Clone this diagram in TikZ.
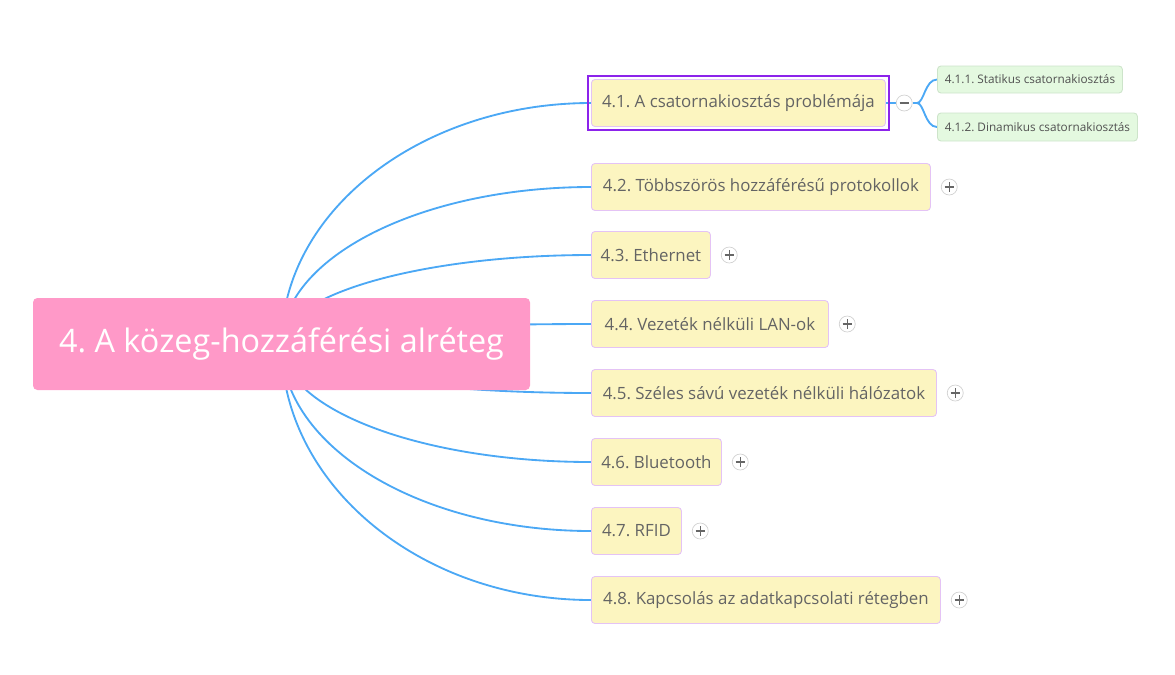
\documentclass[tikz,border=0pt]{standalone}
\usepackage{fontspec}
\setmainfont{Open Sans}
\frenchspacing
\usetikzlibrary{positioning,backgrounds,fit,calc}
\definecolor{rozsa}{RGB}{255,153,200}
\definecolor{sarga}{RGB}{252,245,192}
\definecolor{lila}{RGB}{228,195,245}
\definecolor{zold}{RGB}{228,249,224}
\definecolor{zoldkeret}{RGB}{205,228,202}
\definecolor{kek}{RGB}{75,168,245}
\definecolor{kijelol}{RGB}{140,35,235}
\definecolor{szurke}{RGB}{100,100,100}
\def\px{0.02cm}
\begin{document}
\begin{tikzpicture}[x=0.02cm,y=-0.02cm,
	fo/.style={fill=rozsa,text=white,rounded corners=2.5pt,minimum width=497*\px,
		minimum height=92*\px,font=\fontsize{18.4}{21}\selectfont},
	tema/.style={anchor=west,fill=sarga,draw=lila,line width=0.5pt,rounded corners=2pt,
		minimum height=47*\px,text=szurke,font=\fontsize{9.6}{11}\selectfont},
	al/.style={anchor=west,fill=zold,draw=zoldkeret,line width=0.5pt,rounded corners=2pt,
		text=szurke!80!black,font=\fontsize{6.7}{8}\selectfont},
	ag/.style={kek,line width=1.05pt},
	kor/.style={circle,minimum size=16*\px,inner sep=0pt,draw=gray!35,fill=white},
	plusz/.style={kor,path picture={
		\draw[gray!80!black,line width=0.6pt]
			([xshift=-2.6pt]path picture bounding box.center) -- ([xshift=2.6pt]path picture bounding box.center)
			([yshift=-2.6pt]path picture bounding box.center) -- ([yshift=2.6pt]path picture bounding box.center);}},
	minusz/.style={kor,path picture={
		\draw[gray!80!black,line width=0.6pt]
			([xshift=-2.6pt]path picture bounding box.center) -- ([xshift=2.6pt]path picture bounding box.center);}},
	kijel/.style={draw=kijelol,line width=1.2pt,inner sep=3*\px}]
\useasboundingbox (0,0) rectangle (1175,674);
% kozponti tema
\node[fo] (kozep) at (281.5,344) {4. A közeg-hozzáférési alréteg};
% fejezetek
\foreach \i/\y/\w/\szoveg in {
	1/103/294/{4.1. A csatornakiosztás problémája},
	2/187/339/{4.2. Többszörös hozzáférésű protokollok},
	3/255/119/{4.3. Ethernet},
	4/324/237/{4.4. Vezeték nélküli LAN-ok},
	5/393/345/{4.5. Széles sávú vezeték nélküli hálózatok},
	6/462/130/{4.6. Bluetooth},
	7/531/90/{4.7. RFID},
	8/600/349/{4.8. Kapcsolás az adatkapcsolati rétegben}}{
	\node[tema,minimum width=\w*\px] (t\i) at (591,\y) {\szoveg};
}
\foreach \i in {2,...,8}
	\node[plusz,right=10*\px of t\i] (p\i) {};
\node[minusz,right=10*\px of t1] (m1) {};
\node[kijel,fit=(t1)] (jelolt) {};
% alfejezetek
\node[al,minimum width=185*\px,minimum height=27*\px] (s1) at (937,79.5) {4.1.1. Statikus csatornakiosztás};
\node[al,minimum width=200*\px,minimum height=28*\px] (s2) at (937,127) {4.1.2. Dinamikus csatornakiosztás};
\coordinate (elag) at (917,103);
\begin{scope}[on background layer]
\foreach \i in {1,...,8}
	\draw[ag] (kozep.center) .. controls ($(kozep.center)!0.55!(kozep.center |- t\i.west)$)
		and ($(t\i.west)!0.55!(kozep.center |- t\i.west)$) .. (t\i.west);
\draw[ag] (t1.east) -- (m1.west);
\draw[ag] (m1.east) -- (elag);
\draw[ag] (elag) .. controls +(7,0) and +(-12,0) .. (s1.west);
\draw[ag] (elag) .. controls +(7,0) and +(-12,0) .. (s2.west);
\end{scope}
\end{tikzpicture}
\end{document}
